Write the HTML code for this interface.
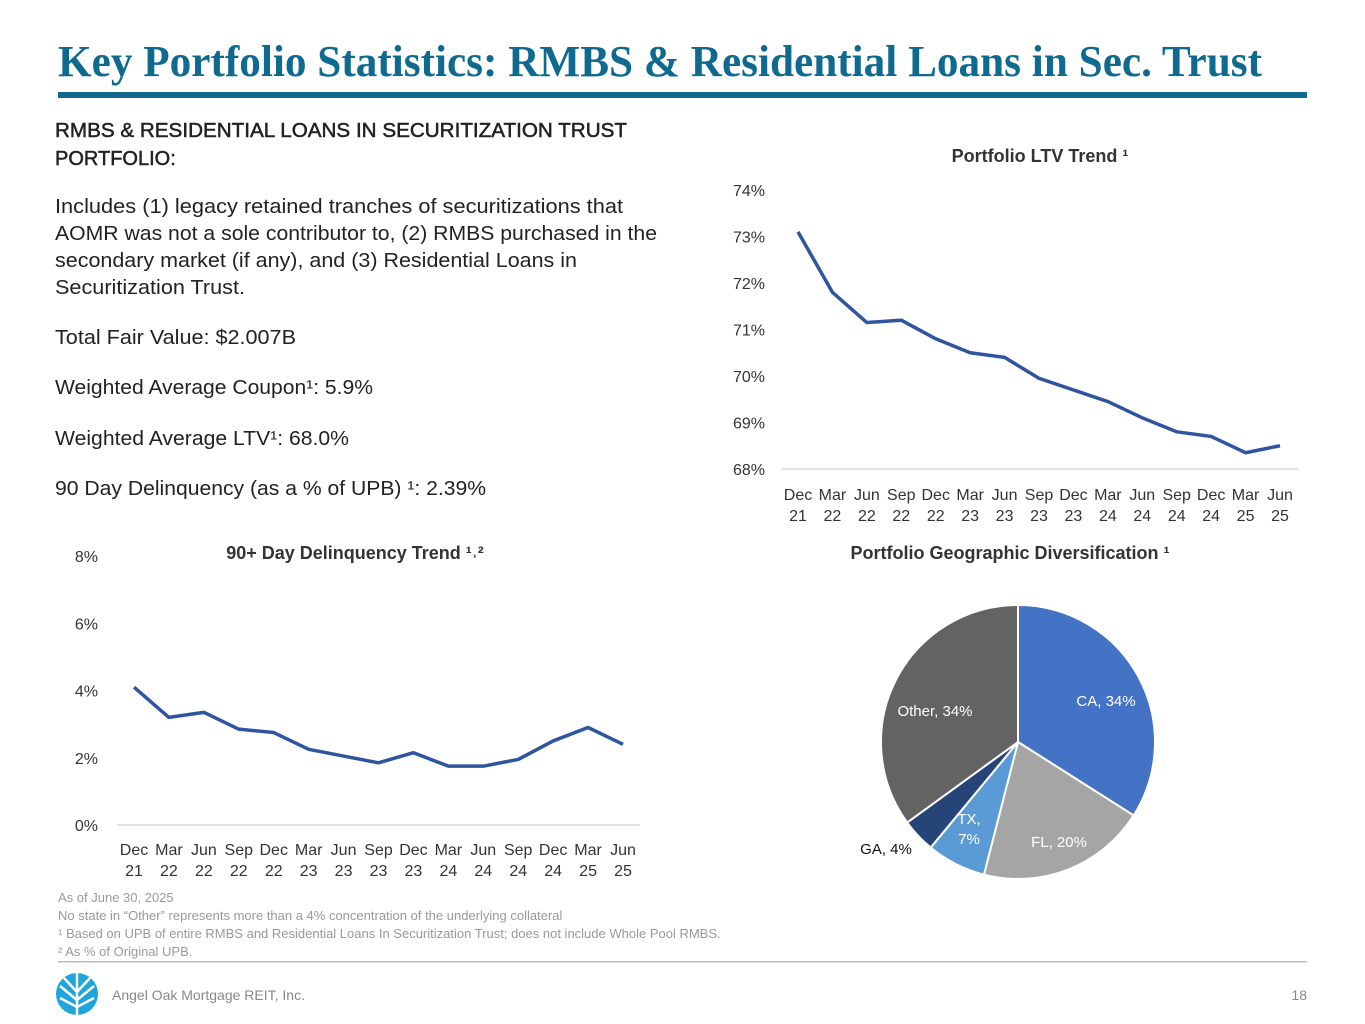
<!DOCTYPE html>
<html><head><meta charset="utf-8"><style>
html,body{margin:0;padding:0;background:#fff;}
svg{display:block;}
text{font-family:"Liberation Sans",sans-serif;}
</style></head><body>
<svg id="page" width="1365" height="1024" viewBox="0 0 1365 1024" xmlns="http://www.w3.org/2000/svg">
<text x="58" y="76" style="font-family:'Liberation Serif',serif" font-weight="bold" font-size="44" fill="#0f6a90" textLength="1204" lengthAdjust="spacingAndGlyphs">Key Portfolio Statistics: RMBS &amp; Residential Loans in Sec. Trust</text>
<rect x="58" y="92" width="1249" height="6" fill="#10688f"/>
<g fill="#222" font-size="20">
<text x="55" y="137" textLength="572" lengthAdjust="spacingAndGlyphs" stroke="#222" stroke-width="0.5">RMBS &amp; RESIDENTIAL LOANS IN SECURITIZATION TRUST</text>
<text x="55" y="165" stroke="#222" stroke-width="0.5">PORTFOLIO:</text>
<text x="55" y="213" textLength="568" lengthAdjust="spacingAndGlyphs">Includes (1) legacy retained tranches of securitizations that</text>
<text x="55" y="240" textLength="602" lengthAdjust="spacingAndGlyphs">AOMR was not a sole contributor to, (2) RMBS purchased in the</text>
<text x="55" y="267" textLength="522" lengthAdjust="spacingAndGlyphs">secondary market (if any), and (3) Residential Loans in</text>
<text x="55" y="294" textLength="190" lengthAdjust="spacingAndGlyphs">Securitization Trust.</text>
<text x="55" y="344" textLength="241" lengthAdjust="spacingAndGlyphs">Total Fair Value: $2.007B</text>
<text x="55" y="394" textLength="318" lengthAdjust="spacingAndGlyphs">Weighted Average Coupon¹: 5.9%</text>
<text x="55" y="445" textLength="294" lengthAdjust="spacingAndGlyphs">Weighted Average LTV¹: 68.0%</text>
<text x="55" y="495" textLength="431" lengthAdjust="spacingAndGlyphs">90 Day Delinquency (as a % of UPB) ¹: 2.39%</text>
</g>
<text x="1040" y="162" text-anchor="middle" font-size="18" font-weight="bold" fill="#333">Portfolio LTV Trend ¹</text>
<g id="ltv"></g>
<text x="355" y="559" text-anchor="middle" font-size="18" font-weight="bold" fill="#333">90+ Day Delinquency Trend ¹˒²</text>
<g id="dq"></g>
<text x="1010" y="559" text-anchor="middle" font-size="18" font-weight="bold" fill="#333">Portfolio Geographic Diversification ¹</text>
<g id="pie"></g>
<g fill="#999" font-size="13">
<text x="58" y="902">As of June 30, 2025</text>
<text x="58" y="920">No state in “Other” represents more than a 4% concentration of the underlying collateral</text>
<text x="58" y="938">¹  Based on UPB of entire RMBS and Residential Loans In Securitization Trust; does not include Whole Pool RMBS.</text>
<text x="58" y="956">² As % of Original UPB.</text>
</g>
<rect x="58" y="961" width="1249" height="1.5" fill="#bbb"/>
<g>
<circle cx="77" cy="994" r="21" fill="#1ea6dc"/>
<path d="M77 973 V1015 M77 1000 L60 986 M77 1000 L94 986 M77 992 L64 978 M77 992 L90 978 M77 1007 L60 998 M77 1007 L94 998" stroke="#fff" stroke-width="2.5"/>
</g>
<text x="112" y="1000" font-size="14" fill="#888">Angel Oak Mortgage REIT, Inc.</text>
<text x="1307" y="1000" text-anchor="end" font-size="14" fill="#888">18</text>
</svg>
<script>
const cats1 = ["Dec","Mar","Jun","Sep","Dec","Mar","Jun","Sep","Dec","Mar","Jun","Sep","Dec","Mar","Jun"];
const cats2 = ["21","22","22","22","22","23","23","23","23","24","24","24","24","25","25"];
const ltvValues = [73.1,71.8,71.15,71.2,70.8,70.5,70.4,69.95,69.7,69.45,69.1,68.8,68.7,68.35,68.5];
const ltvTicks = [68,69,70,71,72,73,74];
const dqValues = [4.1,3.2,3.35,2.85,2.75,2.25,2.05,1.85,2.15,1.75,1.75,1.95,2.5,2.9,2.4];
const dqTicks = [0,2,4,6,8];
const pieLabels = ["CA, 34%","FL, 20%","TX, 7%","GA, 4%","Other, 34%"];
const pieValues = [34,20,7,4,35];
const NS="http://www.w3.org/2000/svg";
function mk(tag,attrs,parent){const e=document.createElementNS(NS,tag);for(const k in attrs)e.setAttribute(k,attrs[k]);parent.appendChild(e);return e;}
function lineChart(g,vals,ticks,x0,x1,yTop,yBot,axisL,axisR,labelX,fmt,catY){
  const mn=ticks[0],mx=ticks[ticks.length-1];
  const sx=i=>x0+(x1-x0)*i/(vals.length-1);
  const sy=v=>yBot-(v-mn)/(mx-mn)*(yBot-yTop);
  ticks.forEach(t=>{const tx=mk('text',{x:labelX,y:sy(t)+6,'text-anchor':'end','font-size':16,fill:'#333'},g);tx.textContent=fmt(t);
    
    });
  const ax=mk('line',{x1:axisL,x2:axisR,y1:yBot,y2:yBot,stroke:'#d9d9d9','stroke-width':1.5},g);
  
  
  cats1.forEach((c,i)=>{const t=mk('text',{x:sx(i),y:catY,'text-anchor':'middle','font-size':16,fill:'#333'},g);t.textContent=c;
    
    
    const t2=mk('text',{x:sx(i),y:catY+21,'text-anchor':'middle','font-size':16,fill:'#333'},g);t2.textContent=cats2[i];
    
    });
  const p=mk('polyline',{points:vals.map((v,i)=>sx(i)+','+sy(v)).join(' '),fill:'none',stroke:'#2f55a0','stroke-width':3.5,'stroke-linejoin':'round'},g);
  
  
}
lineChart(document.getElementById('ltv'),ltvValues,ltvTicks,798,1280,190,469,782,1298,765,t=>t+'%',500);
lineChart(document.getElementById('dq'),dqValues,dqTicks,134,623,556,825,117,640,98,t=>t+'%',855);
const colors=["#4472c4","#a5a5a5","#5b9bd5","#264478","#636363"];
const pg=document.getElementById('pie');
const cx=1018,cy=742,r=137;
const tot=pieValues.reduce((a,b)=>a+b,0);
let a=0;
const labelPos=[[1106,706,'#fff'],[1059,847,'#fff'],[969,834,'#fff'],[886,854,'#111'],[935,716,'#fff']];
pieValues.forEach((v,i)=>{
  const a0=a,a1=a+v/tot*2*Math.PI;a=a1;
  const p0=[cx+r*Math.sin(a0),cy-r*Math.cos(a0)],p1=[cx+r*Math.sin(a1),cy-r*Math.cos(a1)];
  const s=mk('path',{d:`M${cx},${cy} L${p0[0]},${p0[1]} A${r},${r} 0 ${a1-a0>Math.PI?1:0} 1 ${p1[0]},${p1[1]} Z`,fill:colors[i],stroke:'#fff','stroke-width':2},pg);
  
  
});
pieLabels.forEach((l,i)=>{
  const [x,y,c]=labelPos[i];
  if(i===2){
    const t=mk('text',{x:x,y:y-10,'text-anchor':'middle','font-size':15,fill:c},pg);t.textContent='TX,';
    
    
    const t2=mk('text',{x:x,y:y+10,'text-anchor':'middle','font-size':15,fill:c},pg);t2.textContent=pieValues[i]+'%';
    
    
  } else {
    const t=mk('text',{x:x,y:y,'text-anchor':'middle','font-size':15,fill:c},pg);t.textContent=l;
    
    
  }
});
</script>
</body></html>
